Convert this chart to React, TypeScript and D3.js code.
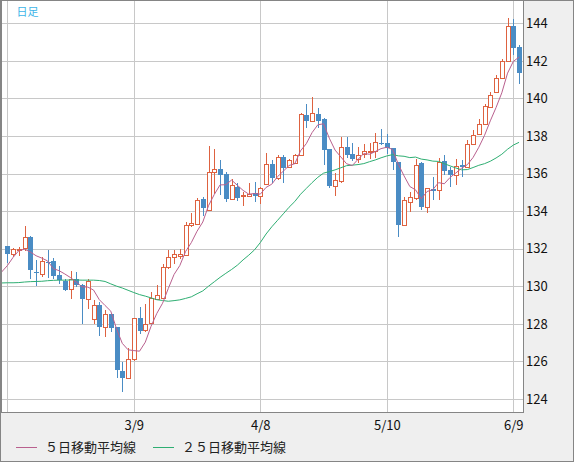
import React from 'react';
import * as d3 from 'd3';

const dates = [
  '2/7','2/8','2/9','2/10','2/11','2/14','2/15','2/16','2/17','2/18','2/21','2/22','2/23','2/24','2/25','2/28',
  '3/1','3/2','3/3','3/4','3/7','3/8','3/9','3/10','3/11','3/14','3/15','3/16','3/17','3/18','3/21','3/22','3/23','3/24','3/25','3/28','3/29','3/30','3/31',
  '4/1','4/4','4/5','4/6','4/7','4/8','4/11','4/12','4/13','4/14','4/15','4/18','4/19','4/20','4/21','4/22','4/25','4/26','4/27','4/28','4/29',
  '5/2','5/3','5/4','5/5','5/6','5/9','5/10','5/11','5/12','5/13','5/16','5/17','5/18','5/19','5/20','5/23','5/24','5/25','5/26','5/27','5/30','5/31',
  '6/1','6/2','6/3','6/6','6/7','6/8','6/9','6/10'
];

const opens = [
  132.13,131.69,131.93,132.01,132.63,130.77,130.67,131.3,131.34,130.59,130.27,129.83,130.36,130.06,129.29,128.25,
  128.99,127.8,128.5,127.8,125.48,125.12,126.1,128.28,127.64,128.02,129.3,129.35,131.0,131.55,131.6,131.66,133.25,133.29,134.62,134.05,136.06,136.24,135.95,
  134.64,135.26,134.8,134.82,134.94,134.82,135.44,136.5,135.74,136.9,136.33,136.58,136.98,139.12,138.81,139.17,138.9,137.29,135.33,135.62,137.39,
  137.04,136.75,137.02,137.13,137.21,137.6,137.6,137.34,136.63,133.25,134.46,134.67,136.54,134.23,135.2,135.1,136.68,136.17,135.9,136.43,136.34,137.55,
  138.12,138.62,139.56,140.34,141.08,141.97,143.86,142.74
];
const highs = [
  132.15,132.03,132.1,133.2,132.65,131.39,131.53,131.92,131.48,131.09,130.38,130.8,130.73,130.1,130.36,129.26,
  129.17,128.73,128.52,127.82,125.97,126.72,128.3,128.88,129.03,129.7,130.06,131.16,131.92,131.92,131.98,133.43,133.91,134.67,134.73,137.46,137.3,136.72,136.1,
  135.69,135.47,135.0,135.5,135.53,135.3,137.1,136.72,136.98,136.98,136.75,137.04,139.2,139.7,140.06,139.5,138.95,137.3,136.04,137.96,137.96,
  137.6,137.43,137.57,137.6,138.14,138.35,138.1,137.34,136.63,134.76,135.03,136.75,136.6,135.25,135.83,136.8,137.0,136.34,136.79,136.7,137.77,138.3,
  138.9,139.72,140.34,141.23,142.12,144.28,144.25,142.83
];
const lows = [
  131.21,131.53,131.62,131.85,130.36,130.0,130.47,130.45,130.4,130.09,129.75,129.31,129.98,127.96,128.76,127.98,
  127.36,127.31,127.57,125.09,124.37,125.09,126.03,127.45,127.57,128.0,129.26,129.31,130.91,131.2,131.45,131.6,133.15,133.25,133.75,134.05,134.89,134.85,134.5,
  134.6,134.53,134.28,134.73,134.46,134.36,135.39,135.47,135.65,135.51,136.27,136.54,136.95,138.4,138.76,138.45,136.45,135.21,134.8,135.47,136.8,
  136.65,136.54,136.8,136.75,136.8,137.5,137.05,136.18,132.63,133.2,133.93,134.6,134.05,133.91,134.59,134.6,135.9,135.28,135.37,135.81,136.29,137.5,
  138.07,138.56,139.54,140.3,141.05,141.94,142.33,140.78
];
const closes = [
  131.69,131.96,132.0,132.6,130.86,130.68,131.33,131.25,130.55,130.32,129.79,130.36,130.05,129.29,130.27,128.99,
  127.8,128.5,127.78,125.56,125.12,126.1,128.28,127.62,127.96,129.35,129.52,131.0,131.55,131.69,131.72,133.25,133.38,134.59,134.14,136.09,136.22,135.92,134.64,
  135.38,134.71,134.86,134.9,134.82,135.21,136.5,135.74,136.9,136.27,136.72,136.98,139.17,138.81,139.2,138.81,137.25,135.33,135.65,137.39,136.98,
  136.77,136.98,137.2,137.2,137.69,137.56,137.34,136.63,133.25,134.59,134.73,136.45,134.23,135.21,135.08,136.6,136.15,135.9,136.4,136.34,137.55,138.07,
  138.62,139.58,140.2,141.09,141.99,143.86,142.7,141.37
];

const ma5Lead = [130.75, 131.09, 131.53, 131.89, 131.97];
const ma25Lead = [
  130.17,130.18,130.18,130.19,130.22,130.24,130.25,130.26,130.29,130.31,130.32,130.32,130.33,
  130.33,130.32,130.32,130.32,130.3,130.25,130.12,130.0,129.9,129.78,129.66,129.55
];

const yTicks = [124,126,128,130,132,134,136,138,140,142,144];
const gridDates = ['2/7','3/9','4/8','5/10','6/9'];
const labelDates = ['3/9','4/8','5/10','6/9'];
const legendLabels = ['５日移動平均線','２５日移動平均線'];

const UP = '#de6240';
const DOWN = '#4a8cc4';
const MA5C = '#b9608e';
const MA25C = '#2eae72';
const FONT = '"Noto Sans CJK JP", "Noto Sans", sans-serif';

function movingAvg(n: number, lead: number[]) {
  const pts: [number, number][] = [];
  lead.forEach((v, k) => pts.push([k - 1, v]));
  for (let i = n - 1; i < closes.length; i++) {
    const s = d3.sum(closes.slice(i - n + 1, i + 1));
    pts.push([i, s / n]);
  }
  return pts;
}

export default function App() {
  const W = 574, H = 462;
  const plotL = 1, plotR = 523.5, plotT = 0.5, plotB = 412.5;
  const x = d3.scaleLinear().domain([0, 89]).range([7.3, 7.3 + 5.75 * 89]);
  const y = d3.scaleLinear().domain([124, 144]).range([398.8, 23.3]);
  const line = d3.line<[number, number]>().x(d => x(d[0])).y(d => y(d[1]));
  const ma5 = movingAvg(5, ma5Lead);
  const ma25 = movingAvg(25, ma25Lead);

  return (
    <>
      <style>{`body{margin:0}`}</style>
      <svg width={W} height={H} style={{ display: 'block' }} fontFamily={FONT}>
        <defs>
          <clipPath id="plotclip">
            <rect x={plotL + 1} y={plotT + 0.5} width={plotR - plotL - 1.5} height={plotB - plotT - 1} />
          </clipPath>
        </defs>
        <rect x={0} y={0} width={W} height={H} fill="#efefef" />
        <rect x={plotL} y={plotT} width={plotR - plotL} height={plotB - plotT} fill="#fff" />
        {yTicks.map(t => (
          <line key={'h' + t} x1={plotL} x2={plotR} y1={Math.round(y(t)) + 0.5} y2={Math.round(y(t)) + 0.5} stroke="#c8c8c8" strokeWidth={1} />
        ))}
        {gridDates.map(d => {
          const xi = Math.round(x(dates.indexOf(d))) + 0.5;
          return <line key={'v' + d} x1={xi} x2={xi} y1={plotT} y2={plotB} stroke="#c8c8c8" strokeWidth={1} />;
        })}
        <g clipPath="url(#plotclip)">
          {closes.map((c, i) => {
            const o = opens[i];
            const up = c >= o;
            const cx = Math.round(x(i));
            const top = Math.round(y(Math.max(o, c)));
            const bot = Math.round(y(Math.min(o, c)));
            const hy = Math.round(y(highs[i]));
            const ly = Math.round(y(lows[i]));
            const col = up ? UP : DOWN;
            return (
              <g key={i}>
                <line x1={cx + 0.5} x2={cx + 0.5} y1={hy} y2={ly} stroke={col} strokeWidth={1} />
                {up ? (
                  <rect x={cx - 1.5} y={top + 0.5} width={4} height={Math.max(bot - top, 1)} fill="#fff" stroke={col} strokeWidth={1} />
                ) : (
                  <rect x={cx - 2} y={top} width={5} height={Math.max(bot - top, 1)} fill={col} />
                )}
              </g>
            );
          })}
          <path d={line(ma25) || ''} fill="none" stroke={MA25C} strokeWidth={1} />
          <path d={line(ma5) || ''} fill="none" stroke={MA5C} strokeWidth={1} />
        </g>
        <rect x={plotL + 0.5} y={plotT} width={plotR - plotL - 0.5} height={plotB - plotT} fill="none" stroke="#858585" strokeWidth={1} />
        <rect x={0.5} y={0.5} width={W - 1} height={H - 1} fill="none" stroke="#858585" strokeWidth={1} />
        {yTicks.map(t => (
          <text key={'yl' + t} x={526} y={y(t) + 4.8} fontSize={13} fill="#111">{t}</text>
        ))}
        {labelDates.map(d => (
          <text key={'xl' + d} x={x(dates.indexOf(d)) + 0.5} y={430} fontSize={13} fill="#111" textAnchor="middle">{d}</text>
        ))}
        <text x={16.5} y={15.5} fontSize={11} fill="#3db5e8">日足</text>
        <line x1={16} x2={37} y1={447.5} y2={447.5} stroke={MA5C} strokeWidth={1} />
        <text x={45} y={452} fontSize={13} fill="#222">{legendLabels[0]}</text>
        <line x1={153} x2={174} y1={447.5} y2={447.5} stroke={MA25C} strokeWidth={1} />
        <text x={182} y={452} fontSize={13} fill="#222">{legendLabels[1]}</text>
      </svg>
    </>
  );
}
